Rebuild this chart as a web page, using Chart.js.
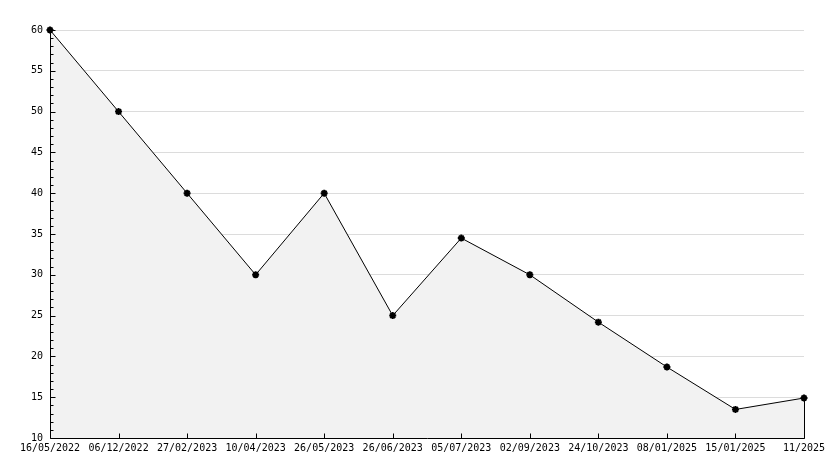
<!DOCTYPE html>
<html><head><meta charset="utf-8">
<script src="https://cdn.jsdelivr.net/npm/chart.js@4/dist/chart.umd.min.js"></script>
<style>html,body{margin:0;padding:0;background:#fff}#wrap{width:834px;height:468px}</style>
</head><body><div id="wrap"><canvas id="c" width="834" height="468"></canvas></div>
<script>
const categories = ["16/05/2022","06/12/2022","27/02/2023","10/04/2023","26/05/2023","26/06/2023","05/07/2023","02/09/2023","24/10/2023","08/01/2025","15/01/2025","11/2025"];
const values = [60, 50, 40, 30, 40, 25, 34.5, 30, 24.2, 18.7, 13.5, 14.9];
const yMin = 10, yMax = 60, yStep = 5, yMinorStep = 1;

const FONT = {family: "'DejaVu Sans Mono', monospace", size: 10};

const marks = {
  id: 'marks',
  afterDatasetsDraw(chart) {
    const {ctx, chartArea: a, scales: {x, y}} = chart;
    ctx.save();
    ctx.strokeStyle = '#000';
    ctx.lineWidth = 1;
    const lx = Math.round(a.left) + 0.5;
    const by = Math.round(a.bottom) + 0.5;
    const lastX = Math.round(x.getPixelForValue(categories.length - 1)) + 0.5;
    ctx.beginPath();
    ctx.moveTo(lx, Math.round(y.getPixelForValue(yMax)));
    ctx.lineTo(lx, by);
    ctx.lineTo(lastX, by);
    // vertical line at the end of the area
    ctx.moveTo(lastX, by);
    ctx.lineTo(lastX, Math.round(y.getPixelForValue(values[values.length - 1])));
    // y ticks (inside)
    for (let v = yMin; v <= yMax; v += yMinorStep) {
      const py = Math.round(y.getPixelForValue(v)) + 0.5;
      const len = (v % yStep === 0) ? 5 : 3;
      ctx.moveTo(lx, py);
      ctx.lineTo(lx + len, py);
    }
    // x ticks (inside)
    for (let i = 1; i < categories.length; i++) {
      const px = Math.round(x.getPixelForValue(i)) + 0.5;
      ctx.moveTo(px, by);
      ctx.lineTo(px, by - 5);
    }
    ctx.stroke();
    ctx.restore();
  }
};

new Chart(document.getElementById('c'), {
  type: 'line',
  data: {
    labels: categories,
    datasets: [{
      data: values,
      borderColor: '#000',
      borderWidth: 1,
      backgroundColor: '#f2f2f2',
      fill: 'start',
      tension: 0,
      pointStyle: 'star',
      pointRadius: 3.5,
      pointBorderWidth: 2,
      pointBorderColor: '#000',
      pointBackgroundColor: '#000',
      clip: false
    }]
  },
  options: {
    responsive: false,
    animation: false,
    devicePixelRatio: 1,
    layout: {padding: {top: 30, right: 30, left: 0, bottom: 0}},
    plugins: {legend: {display: false}, tooltip: {enabled: false}},
    scales: {
      x: {
        type: 'category',
        offset: false,
        grid: {display: false, drawTicks: false},
        border: {display: false},
        ticks: {font: FONT, color: '#000', maxRotation: 0, minRotation: 0, autoSkip: false, padding: 4},
        afterFit(s) { s.height = 30; }
      },
      y: {
        min: yMin, max: yMax,
        grid: {color: '#dcdcdc', drawTicks: false, lineWidth: 1},
        border: {display: false},
        ticks: {font: FONT, color: '#000', stepSize: yStep, padding: 7},
        afterFit(s) { s.width = 50; }
      }
    }
  },
  plugins: [marks]
});
</script>
</body></html>
